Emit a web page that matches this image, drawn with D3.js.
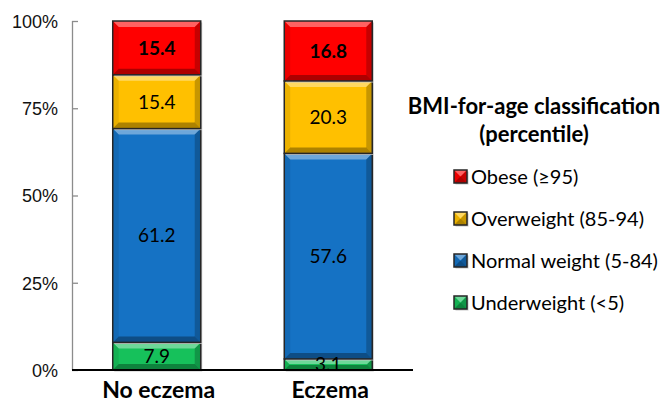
<!DOCTYPE html>
<html>
<head>
<meta charset="utf-8">
<script src="https://cdn.jsdelivr.net/npm/d3@7"></script>
<style>
  body { margin: 0; background: #fff; }
  svg { display: block; font-family: Lato, "Open Sans", sans-serif; }
</style>
</head>
<body>
<div id="chart"></div>
<script>
//////////
// DATA //
//////////

var categories = ["No eczema", "Eczema"];
var classKeys = ["underweight", "normal", "overweight", "obese"];
var classLabels = ["Underweight (<5)", "Normal weight (5-84)", "Overweight (85-94)", "Obese (\u226595)"];
var underweight = [7.9, 3.1];
var normal = [61.2, 57.6];
var overweight = [15.4, 20.3];
var obese = [15.4, 16.8];
var yTicks = [0, 0.25, 0.5, 0.75, 1];
var legendTitle = ["BMI-for-age classification", "(percentile)"];

var colors = { underweight: "#16c15b", normal: "#1572c4", overweight: "#ffc000", obese: "#ff0000" };

//////////////////////////////
// SVG AND GRAPH DIMENSIONS //
//////////////////////////////

var svgWidth = 660, svgHeight = 403;
var margin = { top: 21, right: 247, bottom: 33, left: 72 };
var width = svgWidth - margin.left - margin.right,
    height = svgHeight - margin.top - margin.bottom;

var svg = d3.select("#chart").append("svg")
  .attr("width", svgWidth)
  .attr("height", svgHeight);

var g = svg.append("g")
  .attr("transform", "translate(" + margin.left + "," + margin.top + ")");

// build rows for the stack
var rows = categories.map(function (c, i) {
  return { category: c, underweight: underweight[i], normal: normal[i], overweight: overweight[i], obese: obese[i] };
});

// excel style 100% stacked -> expand offset
var series = d3.stack().keys(classKeys).offset(d3.stackOffsetExpand)(rows);

var x = d3.scaleBand()
  .domain(categories)
  .range([0, width])
  .paddingInner(0.487)
  .paddingOuter(0.2375);

var y = d3.scaleLinear().domain([0, 1]).range([height, 0]);

//////////
// AXES //
//////////

var yAxis = d3.axisLeft(y).tickValues(yTicks).tickFormat(d3.format(".0%")).tickSize(-6).tickPadding(14);

var yG = g.append("g").call(yAxis);
yG.select(".domain").attr("stroke", "#8c8c8c").attr("stroke-width", 1.3).attr("d", "M0.5," + height + "V0");
yG.selectAll(".tick line").attr("stroke", "#8c8c8c").attr("stroke-width", 1.3);
yG.selectAll(".tick text").attr("font-size", "18px").attr("fill", "#111").attr("dy", "0.35em");

///////////////////
// BEVELED BARS  //
///////////////////

function bevel(sel, bx, by, bw, bh, color) {
  var b = Math.min(6, bh / 2.2);
  sel.append("rect").attr("x", bx + 1.5).attr("y", by + 1.5).attr("width", bw).attr("height", bh)
    .attr("fill", "#c8c8c8");
  sel.append("rect").attr("x", bx).attr("y", by).attr("width", bw).attr("height", bh).attr("fill", color);
  var faces = [
    { pts: [[bx, by], [bx + bw, by], [bx + bw - b, by + b], [bx + b, by + b]], fill: "#fff", op: 0.38 },
    { pts: [[bx, by + bh], [bx + bw, by + bh], [bx + bw - b, by + bh - b], [bx + b, by + bh - b]], fill: "#000", op: 0.32 },
    { pts: [[bx, by], [bx + b, by + b], [bx + b, by + bh - b], [bx, by + bh]], fill: "#000", op: 0.08 },
    { pts: [[bx + bw, by], [bx + bw - b, by + b], [bx + bw - b, by + bh - b], [bx + bw, by + bh]], fill: "#000", op: 0.22 }
  ];
  faces.forEach(function (f) {
    sel.append("polygon").attr("points", f.pts.map(function (p) { return p.join(","); }).join(" "))
      .attr("fill", f.fill).attr("fill-opacity", f.op);
  });
  sel.append("rect").attr("x", bx).attr("y", by).attr("width", bw).attr("height", bh)
    .attr("fill", "none").attr("stroke", "#262626").attr("stroke-width", 1.5);
}

series.forEach(function (s) {
  var layer = g.append("g").attr("class", "layer-" + s.key);
  s.forEach(function (d) {
    var bx = x(d.data.category), by = y(d[1]), bh = y(d[0]) - y(d[1]);
    bevel(layer.append("g"), bx, by, x.bandwidth(), bh, colors[s.key]);
  });
});

// value labels
series.forEach(function (s) {
  g.selectAll(".lbl-" + s.key)
    .data(s)
    .enter().append("text")
    .attr("x", function (d) { return x(d.data.category) + x.bandwidth() / 2; })
    .attr("y", function (d) { return (y(d[0]) + y(d[1])) / 2; })
    .attr("dy", "0.36em")
    .attr("text-anchor", "middle")
    .attr("font-size", "19px")
    .attr("font-weight", s.key === "obese" ? "bold" : "normal")
    .attr("fill", "#000")
    .text(function (d) { return d.data[s.key].toFixed(1); });
});

// baseline
g.append("line").attr("x1", 0).attr("x2", width).attr("y1", height).attr("y2", height)
  .attr("stroke", "#000").attr("stroke-width", 2.2);

// category labels
g.selectAll(".cat")
  .data(categories)
  .enter().append("text")
  .attr("x", function (d) { return x(d) + x.bandwidth() / 2 + 2; })
  .attr("y", height + 28)
  .attr("text-anchor", "middle")
  .attr("font-size", "23px")
  .attr("font-weight", "bold")
  .attr("fill", "#000")
  .text(function (d) { return d; });

////////////
// LEGEND //
////////////

var legend = svg.append("g");
legend.selectAll(".title")
  .data(legendTitle)
  .enter().append("text")
  .attr("x", 534)
  .attr("y", function (d, i) { return 114 + i * 28; })
  .attr("text-anchor", "middle")
  .attr("font-size", "22px")
  .attr("font-weight", "bold")
  .attr("fill", "#000")
  .text(function (d) { return d; });

var legendOrder = classKeys.slice().reverse();
legendOrder.forEach(function (k, i) {
  var ly = 177 + i * 42;
  var item = legend.append("g");
  bevel(item, 454, ly - 7, 13, 13, colors[k]);
  item.append("text")
    .attr("x", 471)
    .attr("y", ly)
    .attr("dy", "0.36em")
    .attr("font-size", "20px")
    .attr("fill", "#000")
    .text(classLabels[classKeys.indexOf(k)]);
});
</script>
</body>
</html>
